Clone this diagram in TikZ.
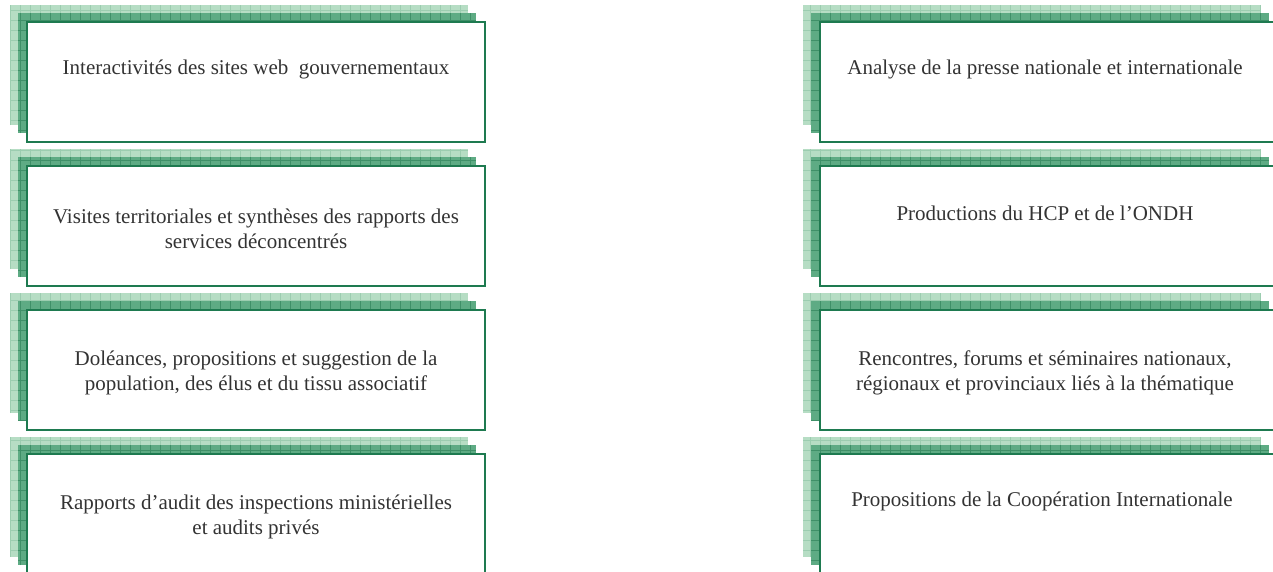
\documentclass[tikz,border=0pt]{standalone}
\usepackage{fontspec}
\setmainfont{Liberation Serif}
\definecolor{lightfill}{HTML}{B6DDC4}
\definecolor{lightgrid}{HTML}{9CCDB0}
\definecolor{darkfill}{HTML}{5EAB84}
\definecolor{darkgrid}{HTML}{3F9068}
\definecolor{boxborder}{HTML}{1E7A50}
\definecolor{txt}{HTML}{333333}
\tikzset{
  mainbox/.style={draw=boxborder, line width=1.6pt, fill=white, minimum width=458pt, minimum height=120pt, inner sep=0pt, anchor=north west},
  label/.style={text=txt, align=center, font=\fontsize{21}{24.5}\selectfont, anchor=center},
}
\newcommand{\shadowbox}[3]{% name, x, y (top-left of main box)
  \fill[lightfill] (#2-16,#3-16) rectangle (#2+442,#3+104);
  \draw[lightgrid, line width=0.5pt] (#2-16,#3-16) grid[step=10pt] (#2+442,#3+104);
  \fill[darkfill] (#2-8,#3-8) rectangle (#2+450,#3+112);
  \draw[darkgrid, line width=0.5pt] (#2-8,#3-8) grid[step=10pt] (#2+450,#3+112);
  \node[mainbox] (#1) at (#2,#3) {};
}
\begin{document}
\begin{tikzpicture}[x=1pt,y=-1pt]
\useasboundingbox (0,0) rectangle (1273,571);
\shadowbox{b1}{26}{21}
\shadowbox{b2}{26}{165}
\shadowbox{b3}{26}{309}
\shadowbox{b4}{26}{453}
\shadowbox{b5}{819}{21}
\shadowbox{b6}{819}{165}
\shadowbox{b7}{819}{309}
\shadowbox{b8}{819}{453}
\node[label] (t1) at (256,69) {Interactivités des sites web~ gouvernementaux};
\node[label] (t2) at (256,229) {Visites territoriales et synthèses des rapports des\\services déconcentrés};
\node[label] (t3) at (256,373) {Doléances, propositions et suggestion de la\\population, des élus et du tissu associatif};
\node[label] (t4) at (256,517) {Rapports d’audit des inspections ministérielles\\et audits privés};
\node[label] (t5) at (1045,69) {Analyse de la presse nationale et internationale};
\node[label] (t6) at (1045,213) {Productions du HCP et de l’ONDH};
\node[label] (t7) at (1045,373) {Rencontres, forums et séminaires nationaux,\\régionaux et provinciaux liés à la thématique};
\node[label] (t8) at (1042,501) {Propositions de la Coopération Internationale};
\end{tikzpicture}
\end{document}
